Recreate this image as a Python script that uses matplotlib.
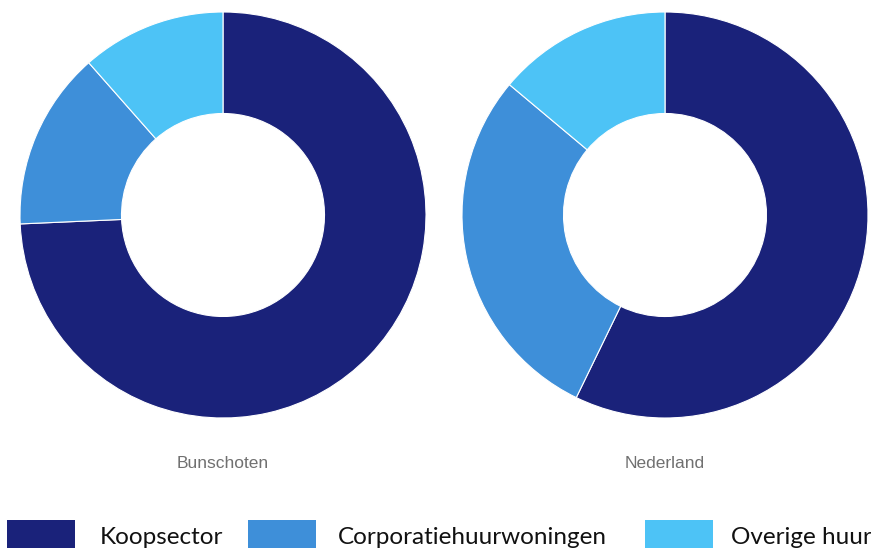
import matplotlib
matplotlib.use("Agg")
import matplotlib.pyplot as plt
from matplotlib.patches import Rectangle

# ---- data (percent shares) ----
categories = ["Koopsector", "Corporatiehuurwoningen", "Overige huur"]
bunschoten = [74.3, 14.2, 11.5]
nederland = [57.2, 28.9, 13.9]
regions = ["Bunschoten", "Nederland"]
colors = ["#1a227a", "#3e8fd9", "#4dc3f6"]

W, H = 871, 548
fig = plt.figure(figsize=(W / 100, H / 100), dpi=100)

# donut placement in pixels: (center x, center y from top, radius)
donuts = [(223, 215, 203), (665, 215, 203)]

for (cx, cy, r), vals, name in zip(donuts, [bunschoten, nederland], regions):
    ax = fig.add_axes([(cx - r) / W, (H - cy - r) / H, 2 * r / W, 2 * r / H])
    ax.pie(vals, colors=colors, startangle=90, counterclock=False, radius=1,
           wedgeprops=dict(width=0.5, edgecolor="white", linewidth=0.8))
    ax.set_xlim(-1, 1)
    ax.set_ylim(-1, 1)
    ax.set_aspect("equal")
    ax.axis("off")
    fig.text(cx / W, 1 - 463 / H, name, ha="center", va="center",
             fontsize=12.5, color="#707070", family="Liberation Sans")

# legend: box left x, text left x (pixels)
legend_pos = [(7, 100), (248, 338), (645, 731)]
for (bx, tx), lab, col in zip(legend_pos, categories, colors):
    fig.patches.append(Rectangle((bx / W, 0), 68 / W, 28 / H, transform=fig.transFigure,
                                 facecolor=col, edgecolor="none"))
    fig.text(tx / W, 1 - 544 / H, lab, ha="left", va="baseline",
             fontsize=17.5, color="#111111", family="Lato")

fig.savefig("out.png", dpi=100)
